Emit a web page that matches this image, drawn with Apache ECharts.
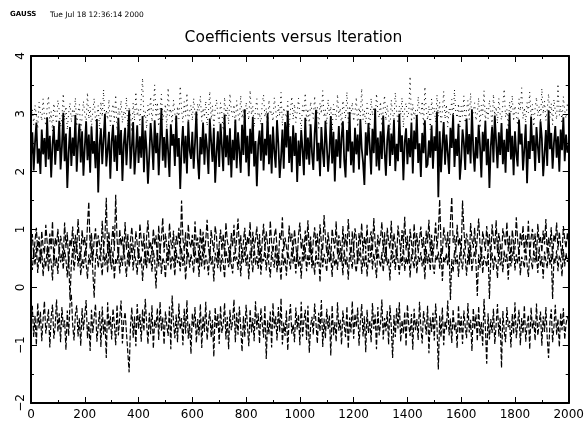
<!DOCTYPE html>
<html>
<head>
<meta charset="utf-8">
<script src="https://cdn.jsdelivr.net/npm/echarts@6/dist/echarts.min.js"></script>
<style>html,body{margin:0;padding:0;background:#fff}#c{width:587px;height:428px}</style>
</head>
<body>
<div id="c"></div>
<script>
const title = "Coefficients versus Iteration";
const header1 = "GAUSS";
const header2 = "Tue Jul 18 12:36:14 2000";
const step = 5; // iterations between recorded values
const xTicks = [0,200,400,600,800,1000,1200,1400,1600,1800,2000];
const yTicks = [-2,-1,0,1,2,3,4];

const coefA = [2.92,3.08,2.81,3.15,2.97,2.74,3.20,3.02,2.88,3.26,
2.95,2.79,3.11,3.31,2.86,3.04,2.70,3.18,2.99,2.83,
3.24,3.06,2.77,2.93,3.35,2.89,3.13,2.72,3.01,3.19,
2.85,3.09,2.96,3.28,2.78,3.03,3.16,2.68,2.94,3.22,
3.00,2.84,3.37,2.91,3.12,2.76,3.05,3.27,2.87,2.98,
3.14,2.73,3.21,2.95,3.42,2.82,3.07,2.90,3.25,2.79,
3.02,3.17,2.86,3.33,2.71,3.10,2.97,3.23,2.84,3.05,
2.93,3.29,2.77,3.12,3.00,2.69,3.19,2.88,3.38,2.96,
3.08,2.81,3.26,3.62,2.92,3.04,2.74,3.15,2.99,3.30,
2.86,3.11,3.50,2.94,3.20,2.78,3.06,3.34,2.89,3.01,
3.17,2.75,3.45,2.97,3.09,2.83,3.24,3.02,2.70,3.13,
2.91,3.48,3.07,2.85,3.21,2.96,3.36,2.80,3.04,3.15,
2.88,3.27,2.99,2.73,3.18,3.05,3.31,2.87,3.10,2.94,
3.22,2.79,3.03,3.39,2.90,3.14,2.76,3.08,3.25,2.97,
2.84,3.19,3.01,2.71,3.29,2.93,3.12,2.82,3.35,3.06,
2.95,3.16,2.78,3.23,3.00,2.86,3.32,2.92,3.09,2.74,
3.20,3.04,2.89,3.41,2.98,3.13,2.77,3.07,3.26,2.91,
3.02,2.81,3.18,3.33,2.94,3.10,2.72,3.24,2.99,3.05,
2.87,3.28,3.08,2.83,3.15,2.96,3.37,2.79,3.11,3.00,
2.93,3.22,2.76,3.06,3.30,2.90,3.17,2.85,3.03,3.27,
2.97,2.73,3.14,3.01,3.36,2.88,3.09,2.80,3.21,3.04,
2.92,3.31,2.86,3.12,2.75,3.19,3.00,3.40,2.94,3.07,
2.82,3.25,2.98,3.13,2.70,3.16,3.03,2.89,3.34,2.95,
3.10,2.78,3.23,3.05,2.91,3.38,2.84,3.14,2.99,3.20,
2.87,3.02,3.29,2.77,3.11,2.96,3.44,2.90,3.06,2.81,
3.18,3.01,2.74,3.27,2.97,3.12,2.85,3.35,3.04,2.93,
3.21,2.79,3.08,3.32,2.88,3.15,2.96,2.72,3.24,3.00,
2.90,3.37,3.05,2.83,3.13,2.98,3.28,2.76,3.09,3.19,
2.94,3.02,3.65,2.86,3.17,2.92,3.07,2.80,3.30,3.03,
2.97,3.22,2.78,3.47,3.06,2.89,3.14,2.73,3.26,3.01,
3.11,2.85,3.33,2.95,3.20,2.82,3.04,3.39,2.91,3.16,
2.77,3.09,2.99,3.25,2.87,3.42,3.02,2.93,3.18,2.74,
3.13,2.96,3.31,2.84,3.07,3.23,2.90,3.36,2.81,3.05,
3.19,2.88,3.01,3.28,2.75,3.15,2.98,3.40,2.86,3.10,
2.92,3.24,3.06,2.79,3.34,2.97,3.12,2.83,3.27,3.00,
2.89,3.17,3.43,2.94,3.08,2.76,3.21,3.03,3.32,2.87,
3.14,2.99,2.80,3.26,3.05,3.45,2.91,3.11,2.84,3.20,
3.02,3.38,2.93,3.16,2.78,3.09,3.29,2.96,3.13,2.85,
3.44,3.00,3.22,2.88,3.07,3.35,2.94,3.18,2.81,3.25,
3.04,2.90,3.52,2.97,3.14,2.83,3.30,3.06,2.92,3.19,
3.08];

const coefB = [2.25,2.68,2.02,2.51,2.85,2.14,2.40,1.96,2.73,2.30,
2.58,2.08,2.94,2.21,2.62,1.90,2.47,2.79,2.12,2.55,
2.36,2.88,2.04,2.44,3.02,2.18,2.66,1.72,2.33,2.77,
2.10,2.59,2.27,2.98,2.00,2.49,2.83,2.16,2.70,1.93,
2.42,2.87,2.20,2.64,1.98,2.78,2.31,2.53,2.06,2.91,
1.64,2.46,2.75,2.13,2.57,3.00,2.09,2.38,2.69,1.88,
2.52,2.81,2.17,2.63,2.01,2.93,2.29,2.72,1.84,2.48,
2.76,2.11,2.56,3.06,2.05,2.43,2.86,1.95,2.34,2.80,
2.15,2.61,2.24,2.96,1.99,2.71,2.39,1.79,2.28,2.84,
2.50,2.03,2.89,2.32,2.67,1.94,2.54,3.10,2.19,2.60,
2.07,2.74,2.35,1.91,2.82,2.45,2.65,2.10,2.97,2.26,
2.58,1.70,2.41,2.79,2.14,2.62,1.97,2.87,2.37,2.22,
2.69,2.05,2.50,3.04,2.23,1.87,2.60,2.30,2.85,2.12,
2.66,2.40,1.96,2.92,2.52,2.17,2.76,1.81,2.33,2.70,
2.08,2.83,2.44,2.01,2.99,2.25,2.63,2.11,2.75,1.90,
2.55,2.20,2.90,2.06,2.68,2.36,1.98,2.81,2.29,3.08,
2.16,2.62,1.92,2.74,2.31,2.95,2.09,2.53,1.75,2.46,
2.71,2.19,2.84,2.02,2.57,2.28,3.01,2.13,2.64,1.97,
2.78,2.35,2.07,2.89,2.48,1.89,2.24,2.73,2.05,2.86,
2.42,3.05,2.15,2.61,1.99,2.80,2.27,2.67,1.82,2.54,
2.10,2.72,2.38,1.94,2.93,2.21,2.59,2.12,2.82,2.33,
2.03,2.66,3.07,2.18,2.50,1.92,2.77,2.36,2.08,2.88,
2.47,2.00,2.34,2.96,2.14,2.69,1.83,2.56,2.26,2.79,
2.06,2.60,2.87,2.19,1.90,2.72,2.35,3.03,2.11,2.52,
1.98,2.76,2.30,2.64,2.04,2.91,2.40,2.16,1.77,2.68,
2.28,2.84,2.45,1.95,2.74,2.32,3.09,2.09,2.59,2.02,
2.70,2.22,2.97,2.37,1.93,2.55,2.81,2.10,2.66,2.29,
2.90,2.01,2.48,2.18,3.00,2.34,2.63,1.85,2.51,2.75,
2.13,2.58,2.25,2.85,1.97,2.71,2.39,2.98,2.15,2.49,
1.91,2.67,2.32,2.89,2.07,2.12,2.54,2.24,2.80,2.05,
2.61,2.36,3.04,1.56,2.70,1.99,2.46,2.86,2.12,2.64,
2.33,1.96,2.76,2.41,2.99,2.08,2.57,2.27,2.83,1.86,
2.19,2.73,2.50,2.03,2.92,2.30,2.65,2.14,3.08,2.38,
2.00,2.60,2.23,2.81,2.44,1.90,2.69,2.35,2.88,2.11,
2.57,1.72,2.43,2.78,2.16,2.97,2.52,2.06,2.68,2.29,
2.84,2.13,2.55,1.98,2.74,2.34,3.02,2.21,2.62,1.94,
2.70,2.31,2.09,2.90,2.47,2.66,2.02,2.40,2.82,1.80,
2.53,2.22,2.95,2.36,2.63,2.01,2.77,2.44,2.15,2.87,
2.58,1.92,2.30,2.72,2.10,3.06,2.39,2.67,2.05,2.50,
2.79,2.24,2.61,2.00,2.73,2.37,2.94,2.18,2.64,2.33,
2.45];

const coefC = [0.74,0.92,0.55,0.81,1.03,0.62,0.88,0.47,0.97,0.70,
0.58,1.08,0.79,0.52,0.93,0.66,1.14,0.43,0.85,0.72,
1.01,0.60,0.89,0.76,0.50,1.12,0.68,0.95,0.39,0.83,
0.71,1.05,0.57,0.91,0.64,1.18,0.80,0.48,0.99,0.73,
0.87,0.54,1.09,1.48,0.67,0.94,0.45,0.82,1.02,0.61,
0.90,0.75,0.53,1.15,0.69,0.86,1.55,0.59,0.96,0.42,
0.78,1.06,0.63,1.60,0.84,0.51,1.00,0.72,0.88,0.56,
1.13,0.65,0.92,0.44,0.81,1.04,0.70,0.58,0.97,0.76,
0.49,1.10,0.83,0.62,0.94,0.37,0.87,1.16,0.68,0.79,
0.55,1.01,0.73,0.90,0.46,1.07,0.64,0.85,1.20,0.60,
0.93,0.71,0.52,1.11,0.80,0.66,0.98,0.41,0.89,0.74,
1.03,0.57,1.50,0.84,0.63,0.95,0.48,1.09,0.77,0.69,
0.91,0.54,1.14,0.72,0.86,0.43,1.02,0.67,0.96,0.59,
0.82,1.17,0.70,0.50,0.99,0.78,0.61,1.06,0.88,0.45,
0.75,1.00,0.64,0.92,0.53,1.12,0.81,0.68,0.40,0.94,
0.71,1.08,0.58,0.85,1.19,0.66,0.90,0.47,0.79,1.03,
0.62,0.87,0.74,1.13,0.51,0.96,0.69,0.83,1.05,0.56,
0.92,0.44,0.80,1.10,0.65,0.97,0.73,0.52,1.15,0.77,
0.60,0.89,1.02,0.68,0.38,0.94,0.82,1.21,0.63,0.86,
0.70,0.49,1.07,0.79,0.93,0.57,1.00,0.74,0.46,0.91,
1.12,0.66,0.84,0.55,0.98,0.72,1.16,0.61,0.88,0.42,
0.81,1.04,0.69,0.93,0.53,1.09,0.76,0.64,1.25,0.87,
0.59,0.95,0.73,0.48,1.01,0.82,0.67,1.14,0.56,0.90,
0.77,0.45,1.06,0.70,0.92,0.62,1.18,0.80,0.51,0.97,
0.68,1.02,0.85,0.40,0.94,0.74,1.11,0.58,0.88,0.66,
1.08,0.54,0.83,0.97,0.63,1.20,0.76,0.49,0.91,0.71,
0.86,1.13,0.60,0.95,0.44,1.03,0.79,0.67,1.15,0.57,
0.93,0.72,0.50,1.07,0.84,0.61,0.99,0.75,1.22,0.64,
0.89,0.46,1.01,0.78,0.55,1.10,0.70,0.94,0.59,0.83,
1.05,0.68,0.87,0.43,0.98,0.76,1.17,0.62,0.91,0.53,
0.80,1.12,0.66,0.95,1.52,0.73,0.58,1.04,0.85,0.69,
0.96,0.48,1.14,1.56,0.77,0.90,0.60,1.08,0.72,0.86,
0.54,1.50,1.00,0.65,0.93,0.79,0.41,1.11,0.83,0.68,
1.03,0.57,0.88,1.19,0.74,0.52,0.97,0.81,0.63,1.06,
0.70,0.92,0.47,1.09,0.84,0.66,1.16,0.59,0.94,0.76,
0.50,1.02,0.87,0.71,1.13,0.62,0.89,0.44,0.99,0.78,
0.65,1.21,0.82,0.56,0.95,0.73,1.07,0.60,0.90,0.69,
1.15,0.53,0.85,1.01,0.67,0.93,0.46,1.10,0.77,0.88,
0.61,0.98,0.74,1.18,0.57,0.86,0.70,1.04,0.48,0.91,
0.79,1.12,0.64,0.96,0.72,0.51,1.06,0.83,0.68,0.94,
0.75];

const coefD = [0.46,0.30,0.61,0.38,0.72,0.25,0.54,0.41,0.66,0.19,
0.50,0.35,0.69,0.28,0.57,0.44,0.12,0.63,0.37,0.52,
0.23,0.70,0.43,0.58,0.31,0.65,0.48,0.17,0.55,-0.21,
0.40,0.67,0.29,0.53,0.75,0.36,0.60,0.21,0.49,0.33,
0.64,0.42,0.15,0.57,0.39,0.71,0.27,-0.18,0.51,0.62,
0.34,0.56,0.45,0.20,0.68,0.38,0.59,0.26,0.73,0.47,
0.31,0.63,0.14,0.50,0.41,0.66,0.24,0.55,0.37,0.70,
0.43,0.18,0.61,0.35,0.52,0.76,0.29,0.58,0.45,0.22,
0.67,0.39,0.54,0.11,0.48,0.62,0.33,0.71,0.40,0.56,
0.27,0.64,0.46,-0.02,0.59,0.36,0.69,0.23,0.51,0.44,
0.16,0.60,0.38,0.73,0.30,0.55,0.47,0.20,0.65,0.42,
0.53,0.28,0.68,0.37,0.58,0.13,0.49,0.62,0.34,0.57,
0.45,0.25,0.70,0.41,0.52,0.18,0.63,0.36,0.74,0.31,
0.56,0.44,0.21,0.66,0.39,0.54,0.10,0.60,0.48,0.33,
0.69,0.27,0.57,0.42,0.16,0.64,0.50,0.35,0.72,0.40,
0.24,0.61,0.46,0.53,0.30,0.67,0.19,0.55,0.43,0.70,
0.37,0.58,0.14,0.63,0.48,0.26,0.71,0.39,0.54,0.32,
0.65,0.22,0.51,0.45,0.68,0.29,0.59,0.40,0.17,0.62,
0.47,0.34,0.73,0.26,0.56,0.43,0.12,0.66,0.38,0.52,
0.20,0.60,0.49,0.31,0.69,0.41,0.55,0.24,0.64,0.36,
0.53,0.15,0.61,0.44,0.70,0.28,0.57,0.39,0.74,0.33,
0.48,0.22,0.63,0.40,0.52,0.09,0.67,0.35,0.58,0.45,
0.27,0.71,0.42,0.55,0.18,0.62,0.37,0.50,0.30,0.68,
0.44,0.59,0.21,0.65,0.38,0.53,0.13,0.60,0.47,0.32,
0.72,0.40,0.26,0.57,0.46,0.69,0.23,0.54,0.36,0.63,
0.19,0.51,0.43,0.74,0.31,0.58,0.41,0.16,0.66,0.48,
0.35,0.61,0.27,0.55,0.70,0.38,0.49,0.12,0.64,0.42,
0.56,0.30,0.67,0.45,0.22,0.59,0.37,0.73,0.28,0.52,
0.40,0.63,0.17,0.57,0.47,0.33,0.69,0.24,0.54,0.44,
0.61,0.36,0.50,0.14,0.66,0.41,0.58,0.29,0.71,0.38,
0.23,0.55,0.46,0.62,0.32,0.68,0.11,0.53,0.43,0.59,
0.37,0.70,-0.22,0.49,0.26,0.64,0.40,0.56,0.18,0.61,
0.45,0.31,0.67,0.52,0.20,0.58,0.39,0.73,0.27,0.50,
0.63,0.42,-0.15,0.57,0.34,0.69,0.24,0.54,0.46,0.35,
0.66,-0.20,0.48,0.60,0.30,0.55,0.43,0.16,0.71,0.38,
0.52,0.26,0.64,0.44,0.58,0.13,0.62,0.36,0.49,0.72,
0.29,0.57,0.41,0.67,0.21,0.53,0.45,0.34,0.69,0.40,
0.18,0.60,0.48,0.31,0.65,0.43,0.56,0.25,0.70,0.37,
0.54,0.15,0.62,0.46,0.33,0.68,0.39,0.58,-0.20,0.51,
0.42,0.64,0.28,0.55,0.47,0.19,0.66,0.36,0.59,0.44,
0.50];

const coefE = [-0.58,-0.32,-0.86,-0.49,-1.00,-0.27,-0.71,-0.42,-0.93,-0.55,
-0.24,-0.80,-0.61,-0.38,-1.04,-0.52,-0.30,-0.89,-0.66,-0.21,
-0.77,-0.45,-0.95,-0.34,-0.69,-0.57,-1.08,-0.40,-0.84,-0.28,
-0.12,-0.64,-0.92,-0.47,-0.31,-0.85,-0.53,-1.01,-0.36,-0.74,
-0.48,-0.22,-0.88,-0.60,-1.10,-0.39,-0.79,-0.51,-0.29,-0.94,
-0.67,-0.41,-1.03,-0.33,-0.82,-0.54,-1.22,-0.26,-0.73,-0.50,
-0.90,-0.37,-0.63,-1.00,-0.30,-0.83,-0.52,-0.23,-0.97,-0.59,
-0.43,-0.78,-1.12,-1.47,-0.68,-0.35,-0.87,-0.50,-1.02,-0.29,
-0.72,-0.46,-0.94,-0.38,-0.76,-0.20,-0.62,-0.98,-0.44,-0.81,
-0.31,-1.06,-0.56,-0.70,-0.36,-0.91,-0.25,-0.75,-0.52,-0.99,
-0.42,-0.65,-0.84,-0.33,-1.07,-0.14,-0.60,-0.88,-0.47,-0.95,
-0.28,-0.73,-0.53,-1.00,-0.37,-0.80,-0.22,-0.89,-0.63,-1.15,
-0.45,-0.69,-0.34,-0.96,-0.55,-0.83,-0.29,-1.05,-0.49,-0.77,
-0.25,-0.91,-0.62,-0.40,-0.86,-0.56,-1.20,-0.35,-0.72,-0.46,
-0.98,-0.32,-0.79,-0.64,-0.27,-0.90,-0.51,-1.07,-0.39,-0.74,
-0.58,-0.21,-0.95,-0.44,-0.82,-0.33,-0.70,-1.11,-0.50,-0.86,
-0.30,-0.66,-1.02,-0.38,-0.78,-0.53,-0.93,-0.24,-0.73,-0.45,
-0.97,-0.36,-0.63,-0.87,-0.31,-1.24,-0.57,-0.81,-0.42,-1.04,
-0.27,-0.71,-0.50,-0.92,-0.34,-0.77,-0.19,-0.99,-0.61,-0.84,
-0.40,-1.09,-0.55,-0.29,-0.80,-0.64,-0.95,-0.35,-0.73,-0.47,
-1.00,-0.25,-0.85,-0.58,-0.39,-0.91,-0.32,-1.13,-0.67,-0.51,
-0.82,-0.28,-0.62,-0.97,-0.44,-0.76,-0.22,-1.03,-0.54,-0.88,
-0.37,-0.72,-0.49,-1.18,-0.31,-0.83,-0.60,-0.94,-0.26,-0.75,
-0.56,-0.99,-0.40,-0.66,-0.86,-0.33,-1.06,-0.52,-0.78,-0.24,
-0.89,-0.46,-0.69,-0.35,-1.01,-0.59,-0.29,-0.85,-0.50,-1.12,
-0.39,-0.79,-0.57,-0.95,-0.27,-0.72,-0.47,-1.07,-0.34,-0.83,
-0.63,-0.21,-0.90,-0.53,-0.76,-0.41,-0.99,-0.31,-0.68,-1.22,
-0.48,-0.86,-0.36,-0.71,-0.26,-0.94,-0.57,-0.80,-0.42,-1.02,
-0.30,-0.65,-0.84,-0.46,-1.08,-0.37,-0.74,-0.55,-0.91,-0.25,
-0.69,-0.97,-0.41,-0.60,-0.82,-0.32,-1.14,-0.52,-0.77,-0.44,
-0.92,-0.28,-0.66,-1.42,-0.49,-0.86,-0.35,-1.00,-0.58,-0.73,
-0.23,-0.83,-0.54,-0.96,-0.38,-0.75,-0.61,-1.05,-0.31,-0.80,
-0.50,-0.98,-0.40,-0.68,-0.88,-0.27,-0.78,-0.56,-1.10,-0.36,
-0.73,-0.47,-0.93,-0.33,-0.84,-0.60,-1.01,-0.20,-0.70,-1.32,
-0.45,-0.90,-0.55,-0.79,-0.37,-0.98,-0.64,-0.29,-0.85,-0.52,
-1.39,-0.41,-0.76,-0.95,-0.34,-0.69,-0.58,-1.04,-0.46,-0.81,
-0.26,-0.88,-0.63,-0.39,-1.00,-0.53,-0.80,-0.31,-0.94,-0.66,
-0.48,-1.07,-0.35,-0.72,-0.57,-0.92,-0.28,-0.83,-0.62,-0.42,
-1.01,-0.50,-0.77,-0.34,-0.87,-1.22,-0.60,-0.38,-0.95,-0.68,
-0.30,-0.82,-0.55,-1.03,-0.44,-0.74,-0.36,-0.90,-0.63,-0.51,
-0.58];

function pairs(arr){ return arr.map((v,i)=>[i*step, v]); }

const FONT = "DejaVu Sans";
const chart = echarts.init(document.getElementById('c'), null, {renderer:'canvas'});

function xAx(pos, showLabel){
  return {
    type:'value', position:pos, min:xTicks[0], max:xTicks[xTicks.length-1], interval:200,
    axisLine:{show:true, onZero:false, lineStyle:{color:'#000', width:2}},
    axisTick:{show:true, inside:true, length:6, lineStyle:{color:'#000', width:1}},
    minorTick:{show:true, splitNumber:2, length:3, lineStyle:{color:'#000', width:1}},
    axisLabel:{show:showLabel, color:'#000', fontFamily:FONT, fontSize:12, margin:6,
      formatter:(v)=>String(v)},
    splitLine:{show:false}
  };
}
function yAx(pos, showLabel){
  return {
    type:'value', position:pos, min:yTicks[0], max:yTicks[yTicks.length-1], interval:1,
    axisLine:{show:true, onZero:false, lineStyle:{color:'#000', width:2}},
    axisTick:{show:true, inside:true, length:6, lineStyle:{color:'#000', width:1}},
    minorTick:{show:true, splitNumber:2, length:3, lineStyle:{color:'#000', width:1}},
    axisLabel:{show:showLabel, rotate:90, color:'#000', fontFamily:FONT, fontSize:12, margin:4,
      formatter:(v)=>String(v).replace('-','\u2212')},
    splitLine:{show:false}
  };
}
function line(data, type, width){
  return {
    type:'line', data:pairs(data), showSymbol:false, symbol:'none', sampling:null,
    xAxisIndex:0, yAxisIndex:0, silent:true,
    lineStyle:{color:'#000', width:width, type:type}
  };
}

chart.setOption({
  animation:false,
  backgroundColor:'#fff',
  grid:{left:31, right:17, top:56, bottom:25, containLabel:false},
  title:{text:title, left:'center', top:25, textStyle:{fontFamily:FONT, fontSize:15.5, fontWeight:'normal', color:'#000'}},
  graphic:[
    {type:'text', left:10, top:11, style:{text:header1, font:'bold 7px "DejaVu Sans"', fill:'#000'}},
    {type:'text', left:50, top:11, style:{text:header2, font:'7.5px "DejaVu Sans"', fill:'#000'}}
  ],
  xAxis:[xAx('bottom', true), xAx('top', false)],
  yAxis:[yAx('left', true), yAx('right', false)],
  series:[
    line(coefA, [1,4], 1),
    line(coefE, [5,2], 1.2),
    line(coefD, [5,2], 1.2),
    line(coefC, [6,2], 1.2),
    line(coefB, 'solid', 1.8)
  ]
});
</script>
</body>
</html>
